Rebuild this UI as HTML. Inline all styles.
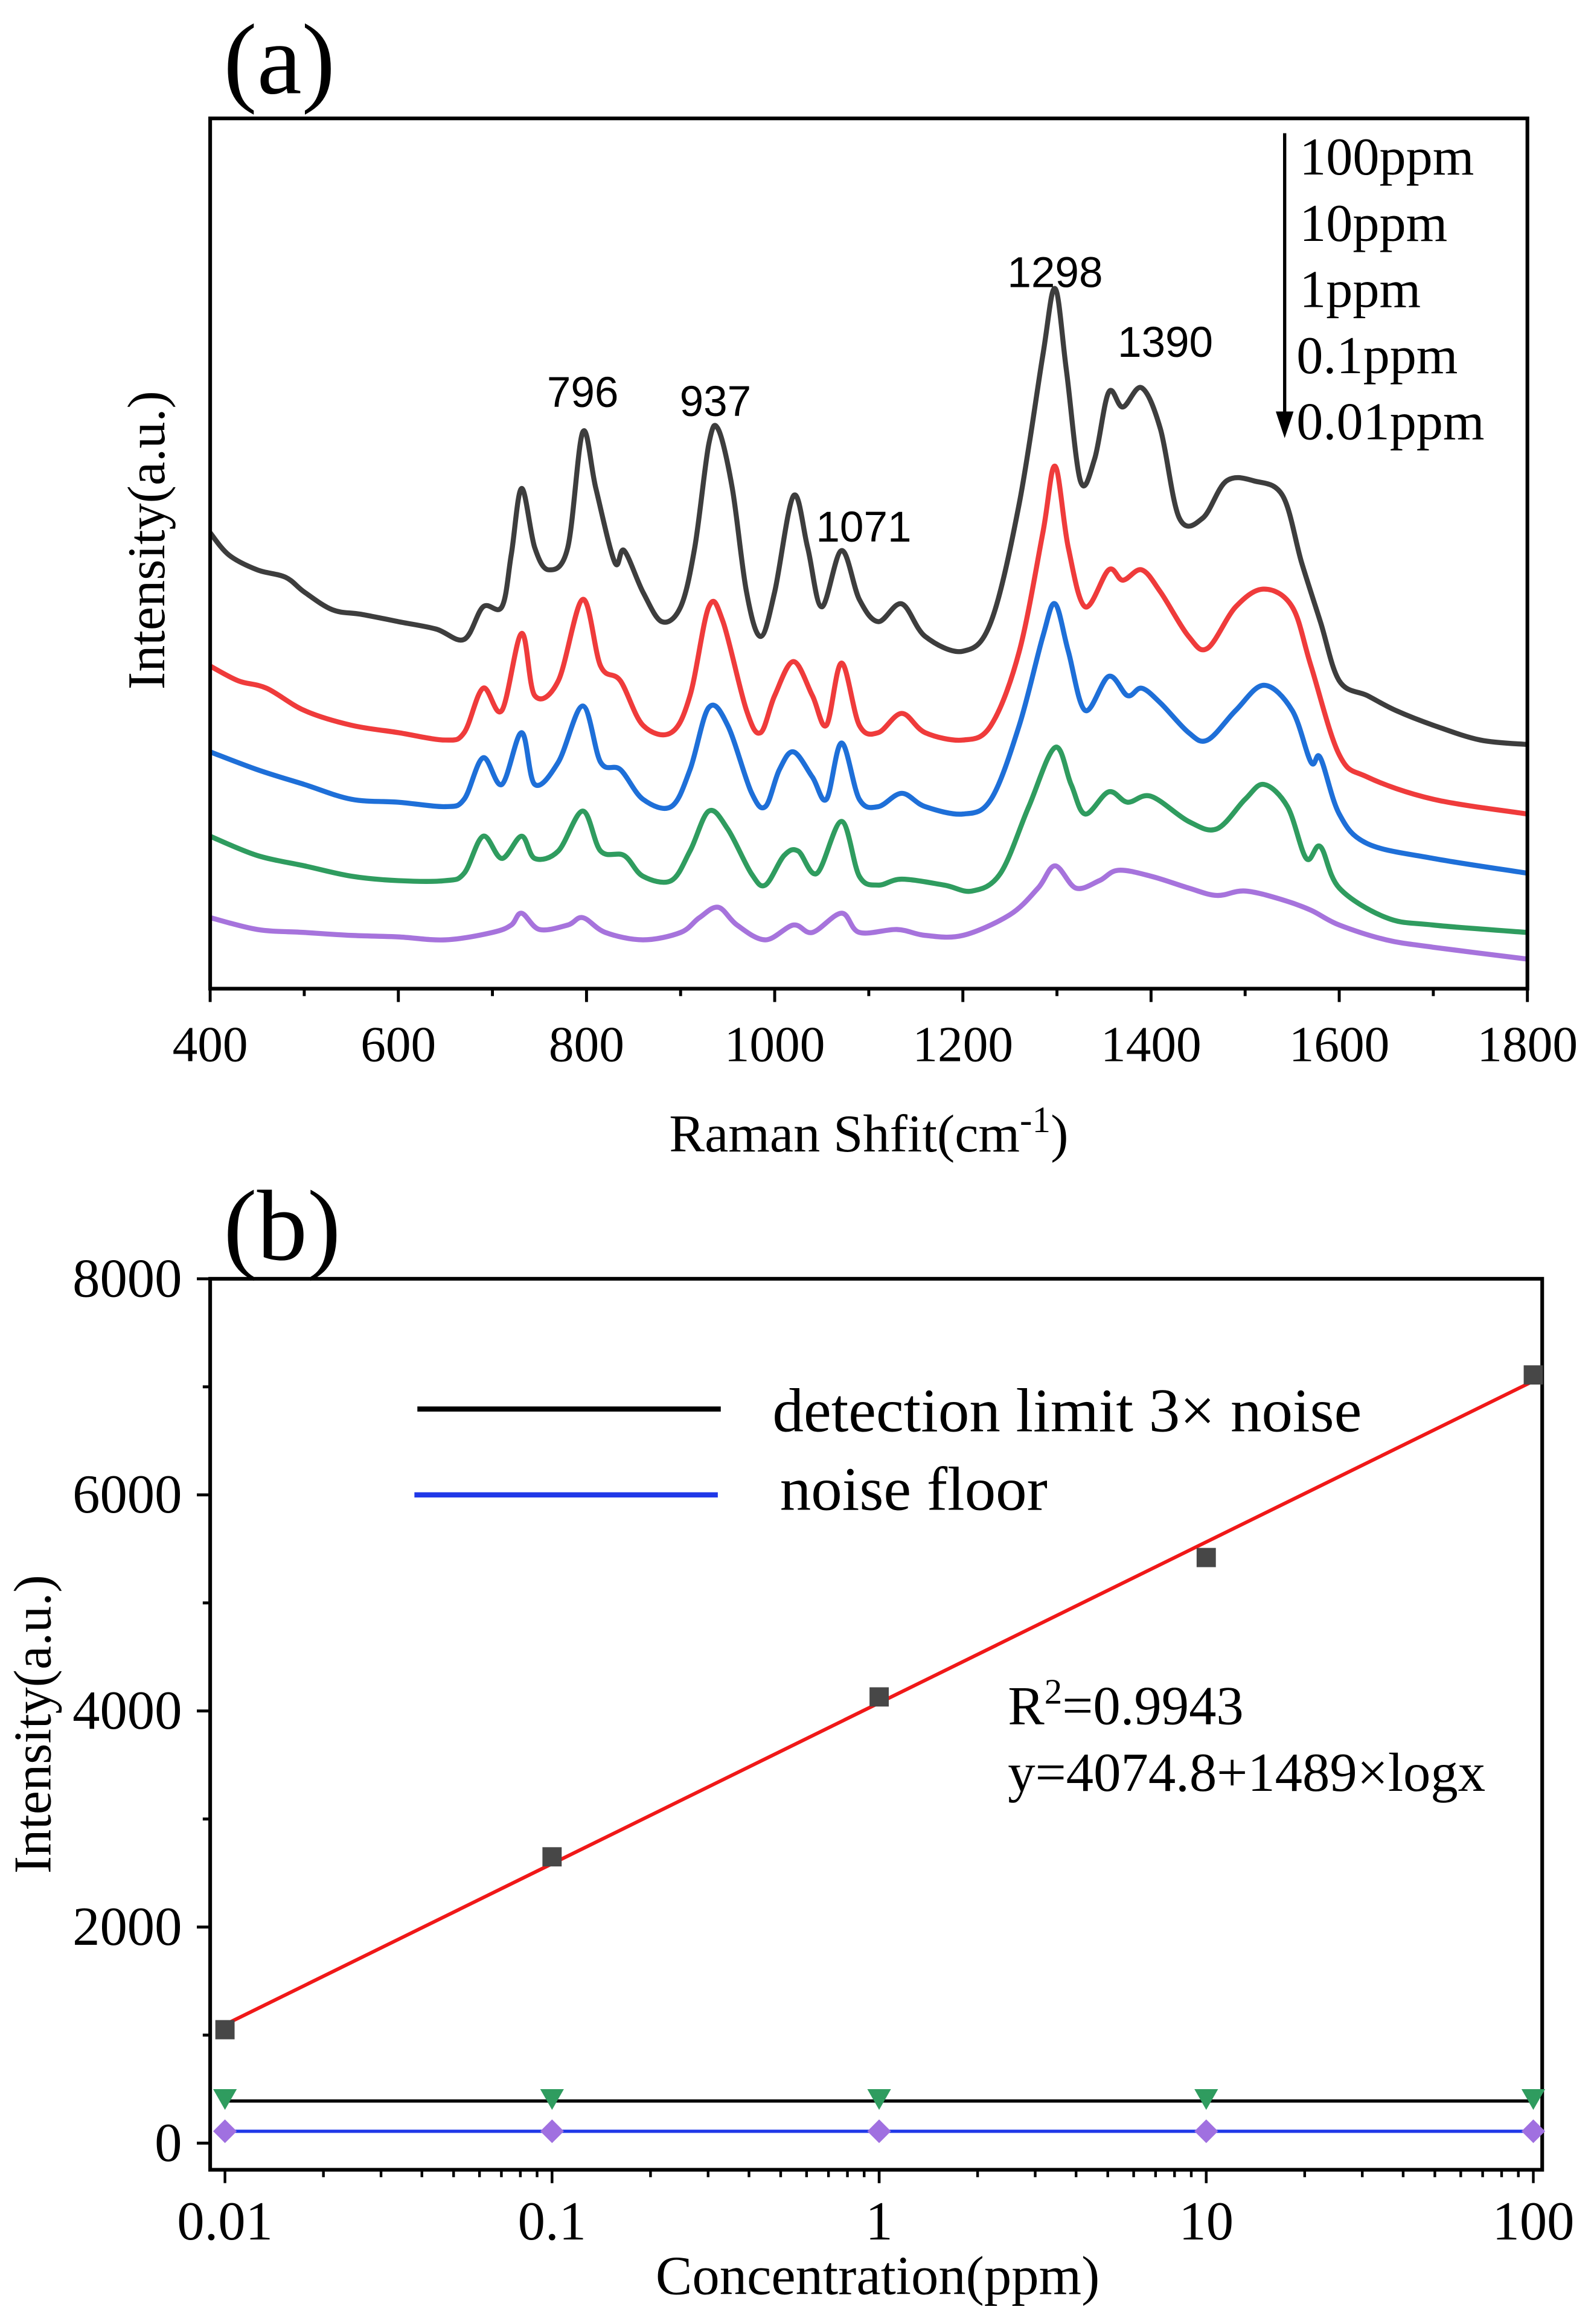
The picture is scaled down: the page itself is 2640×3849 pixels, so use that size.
<!DOCTYPE html>
<html><head><meta charset="utf-8"><style>html,body{margin:0;padding:0;background:#fff}svg{display:block}</style></head>
<body>
<svg id="fig" xmlns="http://www.w3.org/2000/svg" width="2640" height="3849" viewBox="0 0 1077 1570.2" preserveAspectRatio="none" font-family="'Liberation Serif', serif">
<rect width="1077" height="1571" fill="#fff"/>
<g id="pa"></g>
<g id="pb"></g>
</svg>
<script>
// ---- Panel (a) data ----
const specX100 = [400,420,450,480,500,530,560,600,640,670,690,710,720,731,745,760,780,796,810,830,840,860,880,900,915,930,940,955,970,985,1000,1020,1035,1050,1071,1090,1110,1135,1160,1200,1230,1260,1285,1298,1310,1325,1340,1355,1370,1390,1410,1430,1455,1480,1510,1540,1560,1580,1600,1630,1660,1700,1750,1800];
const specY100 = [308,293,283,278,268,256,253,248,243,236,258,258,293,338,298,283,298,376,338,288,296,268,248,258,298,368,378,338,268,238,268,333,298,258,296,263,248,260,238,228,248,328,428,473,418,343,358,403,393,406,378,318,318,343,343,333,288,248,208,198,188,178,168,165];
const specX10 = [400,430,460,500,550,600,650,670,690,710,731,745,770,796,815,836,860,890,910,930,945,970,985,1000,1020,1040,1055,1071,1090,1110,1135,1160,1200,1230,1260,1285,1298,1312,1330,1355,1370,1390,1410,1440,1460,1490,1520,1550,1570,1600,1630,1700,1800];
const specY10 = [218,208,203,188,178,173,168,173,203,188,240,198,208,263,218,208,178,173,198,258,248,188,173,198,221,198,178,220,178,173,186,173,168,178,228,308,353,298,258,283,276,283,268,238,230,258,270,258,218,158,143,128,118];
const specX1 = [400,450,500,550,600,650,670,690,710,731,745,770,796,815,836,860,890,910,930,950,975,990,1005,1020,1040,1055,1071,1090,1110,1135,1160,1200,1230,1260,1285,1298,1312,1330,1355,1375,1390,1410,1440,1460,1490,1520,1550,1570,1580,1600,1630,1700,1800];
const specY1 = [160,148,138,128,126,123,128,156,138,173,138,153,191,153,148,128,123,148,190,178,133,123,148,160,143,128,166,128,123,132,123,118,128,178,238,260,228,188,211,198,203,193,173,168,188,205,188,153,156,118,98,88,78];
const specX01 = [400,450,500,550,600,650,670,690,710,731,745,770,796,815,840,860,890,910,930,950,975,990,1010,1025,1045,1071,1090,1110,1135,1180,1210,1240,1270,1298,1315,1330,1355,1375,1400,1440,1470,1500,1520,1545,1565,1580,1600,1650,1700,1800];
const specY01 = [103,90,83,76,73,73,78,103,88,103,88,93,120,93,90,76,73,93,120,108,78,70,90,93,78,113,76,70,74,70,66,78,123,163,138,118,133,126,130,113,108,128,138,123,88,96,68,48,43,38];
const specX001 = [400,450,500,550,600,650,700,720,731,750,780,796,820,860,900,920,940,960,990,1020,1040,1071,1090,1130,1160,1200,1250,1280,1298,1320,1345,1365,1400,1440,1470,1500,1540,1570,1600,1650,1700,1800];
const specY001 = [48,40,38,36,35,33,38,43,51,40,43,48,38,33,38,48,55,43,33,43,38,51,38,40,36,36,50,68,83,68,73,80,76,68,63,66,60,53,43,33,28,20];
const xTicksA = [400,600,800,1000,1200,1400,1600,1800];
const peakLabels = ["796","937","1071","1298","1390"];
const peakPos = [796,937,1071,1298,1390];
const concLabels = ["100ppm","10ppm","1ppm","0.1ppm","0.01ppm"];
// ---- Panel (b) data ----
const concX = [0.01,0.1,1,10,100];
const signalY = [1050,2650,4130,5420,7110];
const limitY = [390,390,390,390,390];
const noiseY = [110,110,110,110,110];
const fitA = 4074.8, fitB = 1489;
const yTicksB = [0,2000,4000,6000,8000];
const xTicksB = ["0.01","0.1","1","10","100"];

const NS="http://www.w3.org/2000/svg";
function mk(parent,tag,attrs,text){const e=document.createElementNS(NS,tag);for(const k in attrs)e.setAttribute(k,attrs[k]);if(text!==undefined)e.textContent=text;parent.appendChild(e);return e;}
function smoothPath(P){
  let d='M'+P[0][0].toFixed(1)+','+P[0][1].toFixed(1);
  for(let i=0;i<P.length-1;i++){
    const p0=P[Math.max(i-1,0)],p1=P[i],p2=P[i+1],p3=P[Math.min(i+2,P.length-1)];
    const c1=[p1[0]+(p2[0]-p0[0])/6,p1[1]+(p2[1]-p0[1])/6];
    const c2=[p2[0]-(p3[0]-p1[0])/6,p2[1]-(p3[1]-p1[1])/6];
    d+=' C'+c1.map(v=>v.toFixed(1)).join(',')+' '+c2.map(v=>v.toFixed(1)).join(',')+' '+p2[0].toFixed(1)+','+p2[1].toFixed(1);
  }
  return d;
}

// Panel A
const pa=document.getElementById('pa');
const AL=142,AR=1032,AT=80,AB=668;
const ax=v=>AL+(v-400)/(1800-400)*(AR-AL);
const ay=v=>AB-v;
let t=mk(pa,'text',{x:151,y:63,'font-size':68},'(a)');

const series=[[specX100,specY100,'#3d3d3d','spectrum-100ppm'],[specX10,specY10,'#ef3b3b','spectrum-10ppm'],[specX1,specY1,'#1e6fd8','spectrum-1ppm'],[specX01,specY01,'#2f9c5f','spectrum-0.1ppm'],[specX001,specY001,'#a673dc','spectrum-0.01ppm']];
for(const s of series){
  const P=s[0].map((x,i)=>[ax(x),ay(s[1][i])]);
  const p=mk(pa,'path',{d:smoothPath(P),fill:'none',stroke:s[2],'stroke-width':3.4,'stroke-linejoin':'round'});
  
  
}
let fr=mk(pa,'rect',{x:AL,y:AT,width:AR-AL,height:AB-AT,fill:'none',stroke:'#000','stroke-width':2.5});

for(let v=400;v<=1800;v+=100){mk(pa,'line',{x1:ax(v),x2:ax(v),y1:AB,y2:AB+(v%200===0?9:5),stroke:'#000','stroke-width':2});}
xTicksA.forEach(v=>{const e=mk(pa,'text',{x:ax(v),y:717,'font-size':34,'text-anchor':'middle'},String(v));
});
t=mk(pa,'text',{x:587,y:778,'font-size':36,'text-anchor':'middle'});

mk(t,'tspan',{},'Raman Shfit(cm');mk(t,'tspan',{dy:-13,'font-size':25},'-1');mk(t,'tspan',{dy:13},')');
t=mk(pa,'text',{x:0,y:0,'font-size':36,'text-anchor':'middle',transform:'translate(111,365) rotate(-90)'},'Intensity(a.u.)');

const peakYs=[275,281,366,194,241];
const peakDx=[0,0,15,0,16];
peakLabels.forEach((l,i)=>{const e=mk(pa,'text',{x:ax(peakPos[i])+peakDx[i],y:peakYs[i],'font-size':29,'text-anchor':'middle','font-family':"'Liberation Sans', sans-serif"},l);
});
let ar=mk(pa,'line',{x1:868,x2:868,y1:90,y2:283,stroke:'#000','stroke-width':2.2});

mk(pa,'polygon',{points:'862,278 874,278 868,296',fill:'#000'});
concLabels.forEach((l,i)=>{const e=mk(pa,'text',{x:i<3?878:876,y:118+i*44.7,'font-size':36},l);
});

// Panel B
const pb=document.getElementById('pb');
const BL=142,BR=1042,BT=864,BB=1466;
const bx=v=>152+Math.log10(v/0.01)*221;
const by=v=>1448-v/2000*146;
t=mk(pb,'text',{x:151,y:851,'font-size':68},'(b)');

fr=mk(pb,'rect',{x:BL,y:BT,width:BR-BL,height:BB-BT,fill:'none',stroke:'#000','stroke-width':2.5});

yTicksB.forEach(v=>{mk(pb,'line',{x1:BL,x2:BL-9,y1:by(v),y2:by(v),stroke:'#000','stroke-width':2});
const e=mk(pb,'text',{x:123,y:by(v)+12,'font-size':37,'text-anchor':'end'},String(v));
});
for(let v=1000;v<8000;v+=2000){mk(pb,'line',{x1:BL,x2:BL-5,y1:by(v),y2:by(v),stroke:'#000','stroke-width':2});}
for(let d=0;d<4;d++){const base=0.01*Math.pow(10,d);for(let m=1;m<=10;m++){const v=base*m;mk(pb,'line',{x1:bx(v),x2:bx(v),y1:BB,y2:BB+(m===1||m===10?9:5),stroke:'#000','stroke-width':1.8});}}
xTicksB.forEach((l,i)=>{const e=mk(pb,'text',{x:bx(concX[i]),y:1513,'font-size':37,'text-anchor':'middle'},l);
});
t=mk(pb,'text',{x:593,y:1550,'font-size':37,'text-anchor':'middle'},'Concentration(ppm)');

t=mk(pb,'text',{x:0,y:0,'font-size':36,'text-anchor':'middle',transform:'translate(34,1165) rotate(-90)'},'Intensity(a.u.)');

let ln=mk(pb,'line',{x1:bx(0.01),x2:bx(100),y1:by(limitY[0]),y2:by(limitY[4]),stroke:'#000','stroke-width':2.2});

ln=mk(pb,'line',{x1:bx(0.01),x2:bx(100),y1:by(noiseY[0]),y2:by(noiseY[4]),stroke:'#2038e8','stroke-width':2.2});

ln=mk(pb,'line',{x1:bx(0.01),x2:bx(100),y1:by(fitA+fitB*Math.log10(0.01)),y2:by(fitA+fitB*Math.log10(100)),stroke:'#f01818','stroke-width':2.4});

concX.forEach((c,i)=>{
  const x=bx(c);
  let e=mk(pb,'rect',{x:x-6.5,y:by(signalY[i])-6.5,width:13,height:13,fill:'#474747'});
  
  const ty=by(limitY[i]);
  e=mk(pb,'polygon',{points:`${x-8},${ty-8} ${x+8},${ty-8} ${x},${ty+6}`,fill:'#2f9c5f'});
  
  const dy=by(noiseY[i]);
  e=mk(pb,'polygon',{points:`${x},${dy-8} ${x+8},${dy} ${x},${dy+8} ${x-8},${dy}`,fill:'#a070e0'});
  
});
ln=mk(pb,'line',{x1:282,x2:487,y1:952,y2:952,stroke:'#000','stroke-width':3.5});

t=mk(pb,'text',{x:522,y:967,'font-size':42},'detection limit 3× noise');

ln=mk(pb,'line',{x1:280,x2:485,y1:1010,y2:1010,stroke:'#2038e8','stroke-width':3.5});

t=mk(pb,'text',{x:527,y:1020,'font-size':42},'noise floor');

t=mk(pb,'text',{x:681,y:1165,'font-size':37});

mk(t,'tspan',{},'R');mk(t,'tspan',{dy:-14,'font-size':24},'2');mk(t,'tspan',{dy:14},'=0.9943');
t=mk(pb,'text',{x:681,y:1210,'font-size':37},'y=4074.8+1489×logx');

</script>
</body></html>
